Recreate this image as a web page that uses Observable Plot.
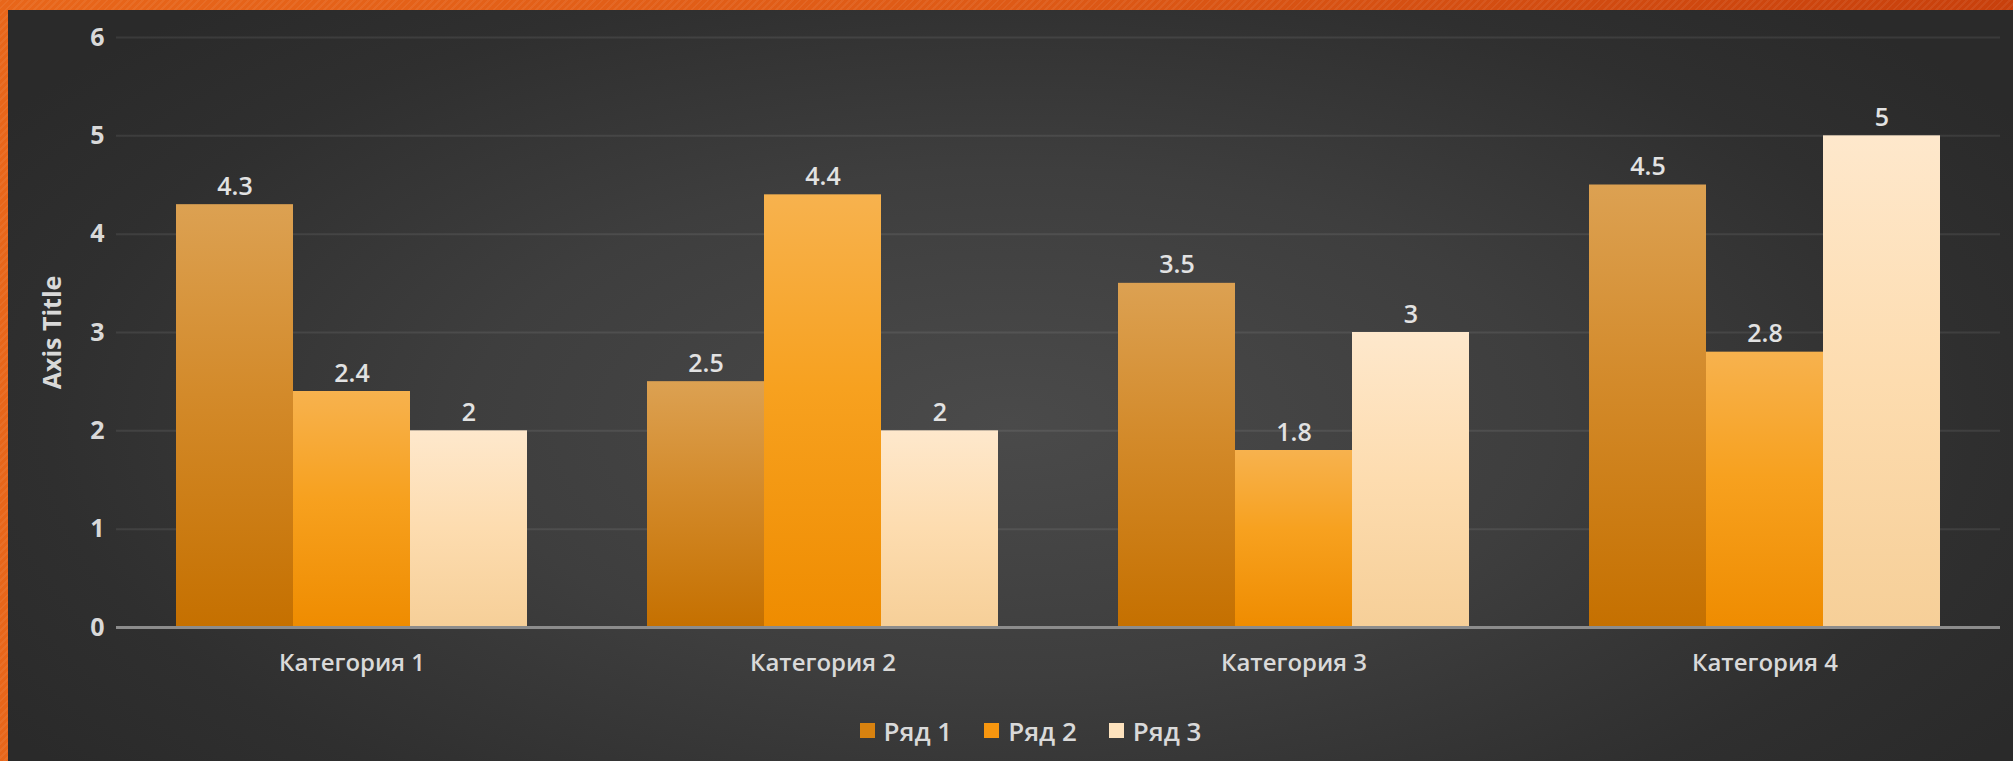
<!DOCTYPE html>
<html>
<head>
<meta charset="utf-8">
<script src="https://cdn.jsdelivr.net/npm/d3@7"></script>
<script src="https://cdn.jsdelivr.net/npm/@observablehq/plot@0.6"></script>
<style>
  html, body { margin: 0; padding: 0; width: 2013px; height: 761px; overflow: hidden; }
  #page { position: relative; width: 2013px; height: 761px; }
  #border {
    position: absolute; left: 0; top: 0; width: 2013px; height: 761px;
    background:
      repeating-linear-gradient(135deg, rgba(255,255,255,0.06) 0 2px, rgba(0,0,0,0.0) 2px 5px),
      linear-gradient(90deg, #e8661a 0%, #de5a16 50%, #c8400c 100%);
  }
  #bg {
    position: absolute; left: 8px; top: 10px; width: 2005px; height: 751px;
    background: radial-gradient(ellipse 60% 75% at 50% 55%, #4a4a4a 0%, #3e3e3e 45%, #2f2f2f 80%, #2a2a2a 100%);
  }
  #chart { position: relative; }
  #legend {
    position: relative; height: 61px; display: flex; justify-content: center; align-items: center;
    padding-left: 48px; box-sizing: border-box; width: 2013px;
    font-family: "Open Sans", sans-serif; font-size: 26px; font-weight: 600; color: #d9d9d9;
    gap: 32px;
  }
  .item { display: flex; align-items: center; gap: 9px; }
  .sw { width: 15px; height: 15px; display: inline-block; }
</style>
</head>
<body>
<div id="page">
  <div id="border"></div>
  <div id="bg"></div>
  <div id="chart"></div>
  <div id="legend"></div>
</div>
<script>
const categories = ["Категория 1", "Категория 2", "Категория 3", "Категория 4"];
const seriesNames = ["Ряд 1", "Ряд 2", "Ряд 3"];
const series1 = [4.3, 2.5, 3.5, 4.5];
const series2 = [2.4, 4.4, 1.8, 2.8];
const series3 = [2, 2, 3, 5];
const yTicks = [0, 1, 2, 3, 4, 5, 6];
const axisTitle = "Axis Title";

const seriesValues = [series1, series2, series3];
const data = [];
categories.forEach((c, i) => {
  seriesNames.forEach((s, j) => data.push({category: c, series: s, value: seriesValues[j][i]}));
});

const gradients = [
  {id: "g1", stops: [["0%", "#dca152"], ["45%", "#d38a2a"], ["100%", "#c57000"]], swatch: "#d8820f"},
  {id: "g2", stops: [["0%", "#f7b24e"], ["45%", "#f7a11f"], ["100%", "#ef8c00"]], swatch: "#f7960f"},
  {id: "g3", stops: [["0%", "#fee8cc"], ["50%", "#fddcaf"], ["100%", "#f6cf98"]], swatch: "#fde2bd"}
];

const chart = Plot.plot({
  width: 2013,
  height: 700,
  marginLeft: 115,
  marginRight: 13,
  marginTop: 37,
  marginBottom: 73,
  style: {background: "transparent", color: "#d9d9d9", fontFamily: "'Open Sans', sans-serif", fontSize: "24px", fontWeight: 600},
  fx: {domain: categories, padding: 0, paddingInner: 0, paddingOuter: 0, label: null},
  x: {domain: seriesNames, paddingInner: 0, paddingOuter: 0.5, axis: null},
  y: {domain: [0, 6]},
  color: {domain: seriesNames, range: gradients.map(g => `url(#${g.id})`)},
  marks: [
    Plot.gridY(yTicks.slice(1), {stroke: "#ffffff", strokeOpacity: 0.08, strokeWidth: 2}),
    Plot.axisY({ticks: yTicks, tickFormat: d3.format("d"), tickSize: 0, tickPadding: 12, label: axisTitle, labelAnchor: "center", labelOffset: 73, labelArrow: "none", fontSize: 25, fontWeight: 700}),
    Plot.axisFx({anchor: "bottom", tickSize: 0, tickPadding: 26, label: null, fontSize: 24}),
    Plot.barY(data, {fx: "category", x: "series", y: "value", fill: "series"}),
    Plot.ruleY([0], {stroke: "#8c8c8c", strokeWidth: 3}),
    Plot.text(data, {fx: "category", x: "series", y: "value", text: d => String(d.value), lineAnchor: "bottom", dy: -10, fill: "#e2e2e2", fontSize: 25, fontWeight: 600})
  ]
});

const ns = "http://www.w3.org/2000/svg";
const defs = document.createElementNS(ns, "defs");
gradients.forEach(g => {
  const lg = document.createElementNS(ns, "linearGradient");
  lg.setAttribute("id", g.id);
  lg.setAttribute("x1", "0"); lg.setAttribute("y1", "0");
  lg.setAttribute("x2", "0"); lg.setAttribute("y2", "1");
  g.stops.forEach(([o, c]) => {
    const st = document.createElementNS(ns, "stop");
    st.setAttribute("offset", o);
    st.setAttribute("stop-color", c);
    lg.appendChild(st);
  });
  defs.appendChild(lg);
});
chart.insertBefore(defs, chart.firstChild);
document.getElementById("chart").appendChild(chart);

const legend = document.getElementById("legend");
seriesNames.forEach((s, j) => {
  const item = document.createElement("div");
  item.className = "item";
  const sw = document.createElement("span");
  sw.className = "sw";
  sw.style.background = gradients[j].swatch;
  const t = document.createElement("span");
  t.textContent = s;
  item.appendChild(sw);
  item.appendChild(t);
  legend.appendChild(item);
});
</script>
</body>
</html>
